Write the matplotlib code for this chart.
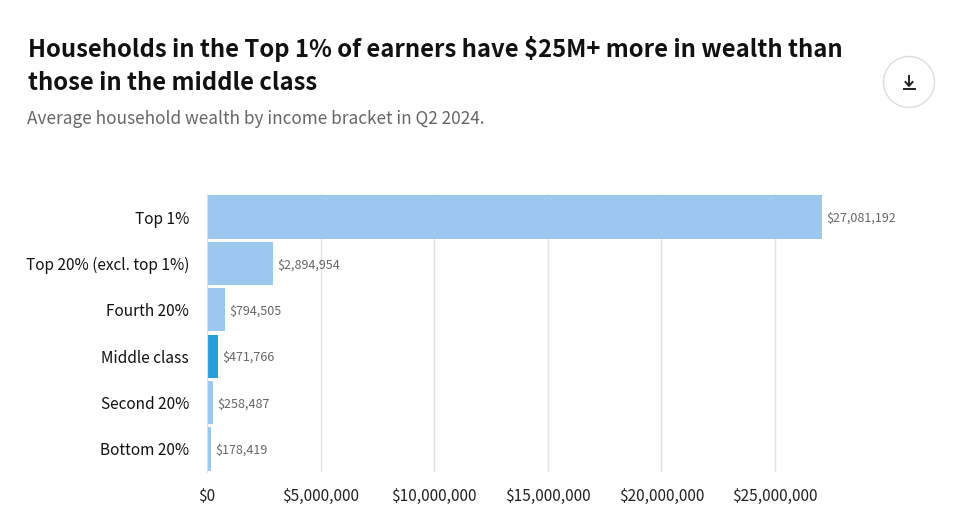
import matplotlib
matplotlib.use('Agg')
import matplotlib.pyplot as plt
from matplotlib.patches import Circle

plt.rcParams['font.family'] = ['Noto Sans CJK SC', 'DejaVu Sans']

categories = ['Top 1%', 'Top 20% (excl. top 1%)', 'Fourth 20%', 'Middle class', 'Second 20%', 'Bottom 20%']
values = [27081192, 2894954, 794505, 471766, 258487, 178419]
bar_colors = ['#9cc7ef', '#9cc7ef', '#9cc7ef', '#279fdc', '#9cc7ef', '#9cc7ef']
x_ticks = [0, 5000000, 10000000, 15000000, 20000000, 25000000]

fig = plt.figure(figsize=(9.6, 5.25), dpi=100)

# plot area in pixels: x 207-890, y 193.8-472.2
ax = fig.add_axes([207 / 960, 1 - 472.2 / 525, 683 / 960, 278.4 / 525])
x_per_px = 5000000 / 113.6
ax.set_xlim(0, 683 * x_per_px)
ax.set_ylim(len(values) - 0.5, -0.5)
ax.barh(range(len(values)), values, height=0.93, color=bar_colors, zorder=2)

ax.set_xticks(x_ticks)
ax.set_xticklabels(['$' + format(t, ',') for t in x_ticks], fontsize=11.1, color='#222222')
ax.set_yticks(range(len(values)))
ax.set_yticklabels(categories, fontsize=11.1, color='#111111')
ax.tick_params(axis='both', length=0)
ax.tick_params(axis='x', pad=11.5)
ax.tick_params(axis='y', pad=13)
ax.grid(axis='x', color='#e4e4e4', lw=1, zorder=1)
for s in ['top', 'right', 'bottom']:
    ax.spines[s].set_visible(False)
ax.spines['left'].set_color('#e0e0e0')

for i, v in enumerate(values):
    ax.annotate('$' + format(v, ','), (v, i), xytext=(3, -0.9), textcoords='offset points',
                va='center', fontsize=9, color='#666666', zorder=3)

fig.text(27.5 / 960, 1 - 49.5 / 525, 'Households in the Top 1% of earners have $25M+ more in wealth than',
         fontsize=17.15, fontweight='bold', color='#111111', va='center')
fig.text(27.5 / 960, 1 - 82.5 / 525, 'those in the middle class',
         fontsize=17.15, fontweight='bold', color='#111111', va='center')
fig.text(27 / 960, 1 - 118.5 / 525, 'Average household wealth by income bracket in Q2 2024.',
         fontsize=12.4, color='#666666', va='center')

# download button, no installed font has the glyph
overlay = fig.add_axes([0, 0, 1, 1], facecolor='none')
overlay.set_xlim(0, 960)
overlay.set_ylim(525, 0)
overlay.axis('off')
overlay.add_patch(Circle((909, 82), 25.5, fc='white', ec='#dddddd', lw=1))
overlay.plot([902.5, 916], [89, 89], color='#222222', lw=1.4, solid_capstyle='butt')
overlay.plot([909, 909], [75, 85], color='#222222', lw=1.4, solid_capstyle='butt')
overlay.plot([905.5, 909, 912.5], [82, 86, 82], color='#222222', lw=1.4)

fig.savefig('out.png', dpi=100)
